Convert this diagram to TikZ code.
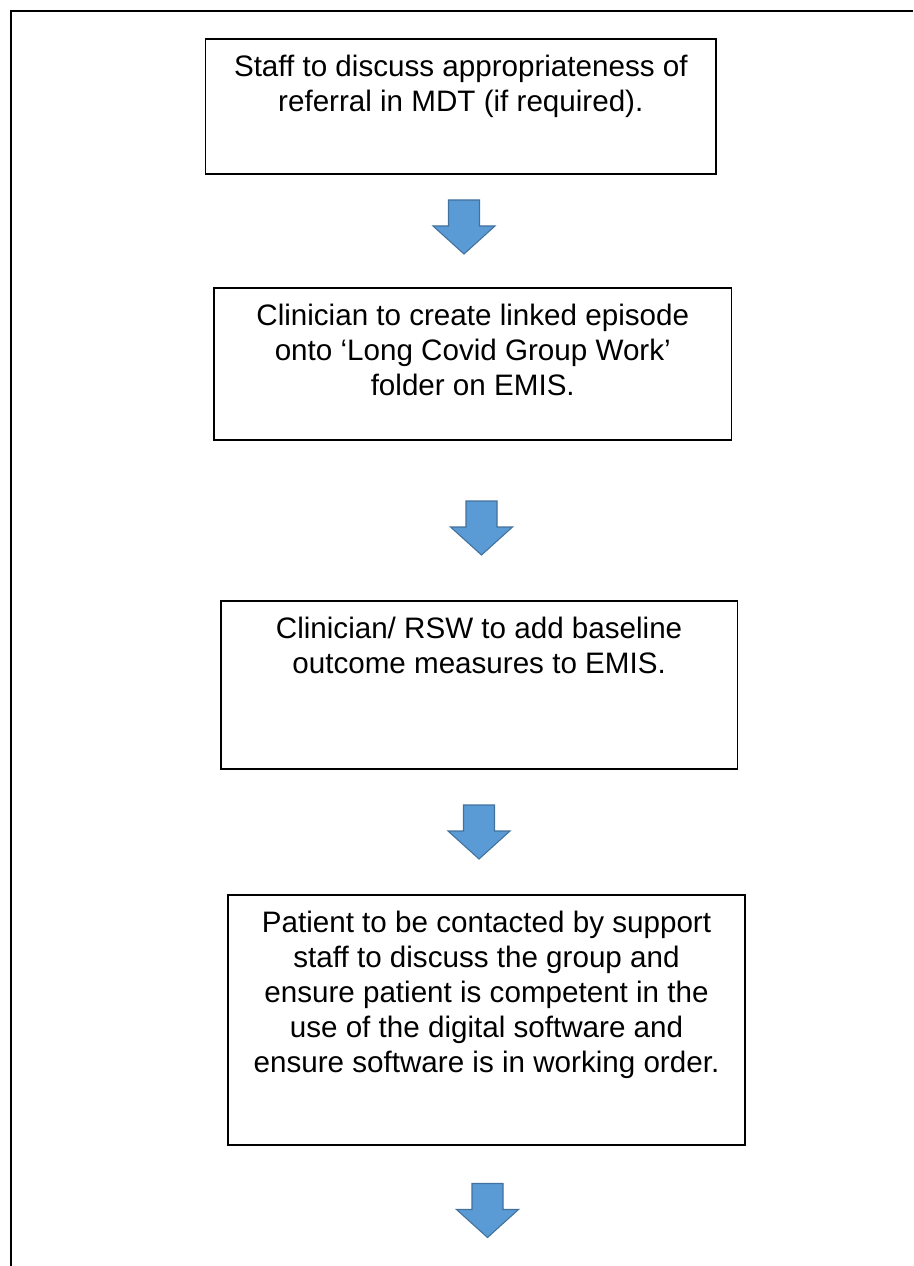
\documentclass[tikz,border=0pt]{standalone}
\usepackage{fontspec}
\setmainfont{Liberation Sans}
\definecolor{arrowblue}{HTML}{5B9BD5}
\definecolor{arrowedge}{HTML}{41719C}
\begin{document}
\begin{tikzpicture}[x=0.75pt,y=-0.75pt,
  stepbox/.style={draw=black, line width=1.25pt, rectangle, inner sep=0pt},
  steptext/.style={anchor=north, inner sep=0pt, align=center,
    font=\fontsize{22.2pt}{26.3pt}\selectfont},
  blockarrow/.style={fill=arrowblue, draw=arrowedge, line width=0.8pt, line join=miter},
  downarrow/.pic={\draw[blockarrow] (-15.5,0) -- (15.5,0) -- (15.5,26) -- (31,26)
     -- (0,54) -- (-31,26) -- (-15.5,26) -- cycle;}]
\useasboundingbox (0,0) rectangle (913,1266);
% outer frame
\draw[line width=1.5pt] (10.5,1266) -- (10.5,11) -- (913,11);

% boxes
\node[stepbox, minimum width=382.8pt, minimum height=101.25pt] (b1) at (460.8,106.5) {};
\node[stepbox, minimum width=388.1pt, minimum height=114pt] (b2) at (472.75,364) {};
\node[stepbox, minimum width=387.6pt, minimum height=126pt] (b3) at (479.1,684.7) {};
\node[stepbox, minimum width=387.75pt, minimum height=187.5pt] (b4) at (486.5,1020) {};

% texts
\node[steptext] (t1) at ([yshift=-10.1pt]b1.north)
  {\strut Staff to discuss appropriateness of\\referral in MDT (if required).};
\node[steptext] (t2) at ([yshift=-10.1pt]b2.north)
  {\strut Clinician to create linked episode\\onto ‘Long Covid Group Work’\\folder on EMIS.};
\node[steptext] (t3) at ([yshift=-10.1pt]b3.north)
  {\strut Clinician/ RSW to add baseline\\outcome measures to EMIS.};
\node[steptext] (t4) at ([yshift=-10.1pt]b4.north)
  {\strut Patient to be contacted by support\\staff to discuss the group and\\ensure patient is competent in the\\use of the digital software and\\ensure software is in working order.};

% block arrows
\pic (a1) at (464,200) {downarrow};
\pic (a2) at (481.5,501) {downarrow};
\pic (a3) at (479,805) {downarrow};
\pic (a4) at (487.5,1183.5) {downarrow};
\end{tikzpicture}
\end{document}
